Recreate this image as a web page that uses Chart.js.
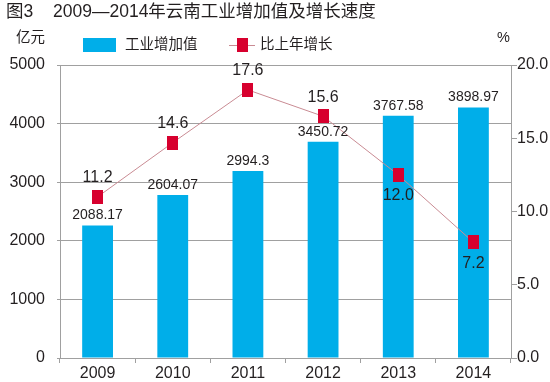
<!DOCTYPE html>
<html><head><meta charset="utf-8">
<script src="https://cdn.jsdelivr.net/npm/chart.js@4/dist/chart.umd.min.js"></script>
<style>html,body{margin:0;padding:0;background:#fff}#wrap{width:550px;height:382px;position:relative}</style>
</head><body><div id="wrap"><canvas id="c" width="550" height="382"></canvas></div>
<script>
const categories = ['2009','2010','2011','2012','2013','2014'];
const industryValues = [2259, 2782, 3191, 3690, 4133, 4276];
const industryLabels = ['2088.17','2604.07','2994.3','3450.72','3767.58','3898.97'];
const growthValues = [11.0, 14.7, 18.3, 16.5, 12.5, 7.9];
const growthLabels = ['11.2','14.6','17.6','15.6','12.0','7.2'];
const leftTicks = [0, 1000, 2000, 3000, 4000, 5000];
const rightTicks = [0, 5, 10, 15, 20];

const FONT = '"Liberation Sans", Arial, "Noto Sans CJK SC", sans-serif';
const TXT = '#231f20';
const BLUE = '#00aee9';
const RED = '#d7002e';
const PINK = '#c98b93';
const GRID = '#a0a0a0';

function makeSquare(){
  const cv = document.createElement('canvas');
  cv.width = 11; cv.height = 14;
  const g = cv.getContext('2d');
  g.fillStyle = RED; g.fillRect(0,0,11,14);
  return cv;
}
const sq = makeSquare();

const extras = {
  id: 'extras',
  afterDatasetsDraw(chart){
    const ctx = chart.ctx;
    ctx.save();
    ctx.fillStyle = TXT;
    ctx.textAlign = 'center';
    ctx.textBaseline = 'middle';
    const barMeta = chart.getDatasetMeta(1);
    ctx.font = '14px ' + FONT;
    barMeta.data.forEach((el,i)=>{ ctx.fillText(industryLabels[i], el.x, el.y - 10); });
    const lineMeta = chart.getDatasetMeta(0);
    ctx.font = '16px ' + FONT;
    lineMeta.data.forEach((el,i)=>{
      const below = i >= 4;
      ctx.fillText(growthLabels[i], el.x, below ? el.y + 21 : el.y - 19);
    });
    ctx.restore();
  },
  afterDraw(chart){
    const ctx = chart.ctx;
    ctx.save();
    ctx.fillStyle = TXT;
    ctx.textBaseline = 'alphabetic';
    ctx.textAlign = 'left';
    ctx.font = '17.5px ' + FONT;
    ctx.fillText('图3', 6, 17);
    ctx.fillText('2009—2014年云南工业增加值及增长速度', 53, 17);
    ctx.font = '14.5px ' + FONT;
    ctx.textBaseline = 'middle';
    ctx.fillText('亿元', 16, 38);
    ctx.fillText('%', 497, 38);
    ctx.fillStyle = BLUE;
    ctx.fillRect(83, 38, 33, 14);
    ctx.fillStyle = TXT;
    ctx.fillText('工业增加值', 125, 45);
    ctx.strokeStyle = PINK; ctx.lineWidth = 1;
    ctx.beginPath(); ctx.moveTo(229, 45.5); ctx.lineTo(255, 45.5); ctx.stroke();
    ctx.drawImage(sq, 237, 38);
    ctx.fillStyle = TXT;
    ctx.fillText('比上年增长', 260, 45);
    ctx.restore();
  }
};

Chart.defaults.font.family = FONT;
Chart.defaults.color = TXT;

new Chart(document.getElementById('c'), {
  data: {
    labels: categories,
    datasets: [
      { type:'line', label:'比上年增长', data: growthValues, yAxisID:'y1', order:0,
        borderColor: PINK, borderWidth: 1, pointStyle: sq, pointRadius: 7,
        pointBackgroundColor: RED, pointBorderColor: RED, tension: 0 },
      { type:'bar', label:'工业增加值', data: industryValues, yAxisID:'y', order:1,
        backgroundColor: BLUE, categoryPercentage: 1, barPercentage: 0.41 }
    ]
  },
  options: {
    responsive:false, animation:false, devicePixelRatio:1,
    layout:{ padding:{ top:65, left:0, right:0, bottom:0 } },
    plugins:{ legend:{display:false}, title:{display:false}, tooltip:{enabled:false} },
    scales:{
      x:{ type:'category', offset:true,
        grid:{ offset:true, drawOnChartArea:false, tickLength:5, color:GRID },
        border:{ color:GRID },
        ticks:{ font:{size:16}, color:TXT, padding:1, maxRotation:0 },
        afterFit(s){ s.height = 24; } },
      y:{ position:'left', min:0, max:5000,
        afterBuildTicks(s){ s.ticks = leftTicks.map(v=>({value:v})); },
        grid:{ color:GRID, tickLength:3 },
        border:{ color:GRID },
        ticks:{ font:{size:16}, color:TXT, padding:12, callback:(v)=>String(v) },
        afterFit(s){ s.width = 60; } },
      y1:{ position:'right', min:0, max:20,
        afterBuildTicks(s){ s.ticks = rightTicks.map(v=>({value:v})); },
        grid:{ drawOnChartArea:false, color:GRID, tickLength:6 },
        border:{ color:GRID },
        ticks:{ font:{size:16}, color:TXT, padding:0, callback:(v)=>Number(v).toFixed(1) },
        afterFit(s){ s.width = 39; } }
    }
  },
  plugins:[extras]
});
</script></body></html>
